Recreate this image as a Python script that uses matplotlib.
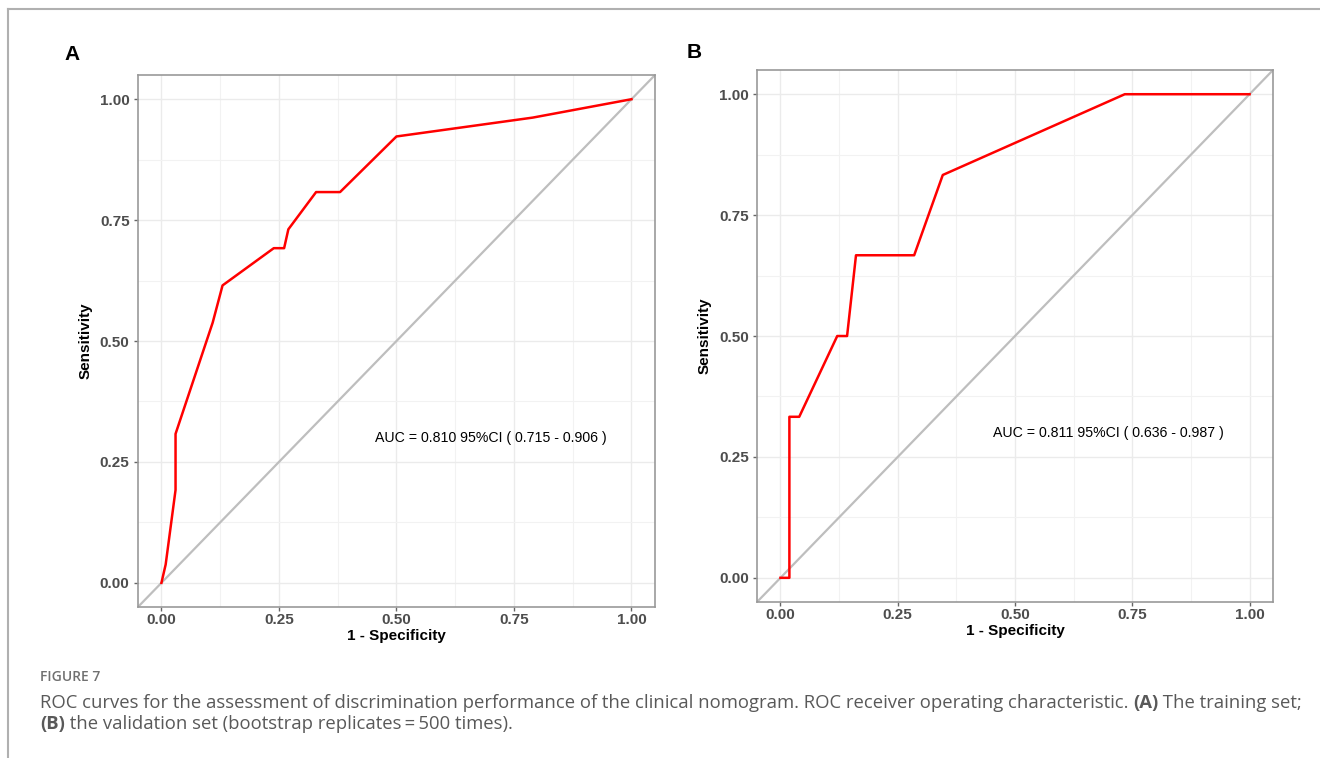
import matplotlib
matplotlib.use("Agg")
import matplotlib.pyplot as plt
from matplotlib.lines import Line2D

plt.rcParams['font.family'] = ['Liberation Sans', 'DejaVu Sans']

# ROC points
train_fpr = [0.0, 0.009, 0.030, 0.030, 0.109, 0.130, 0.239, 0.261, 0.270, 0.329, 0.380, 0.500, 0.790, 1.0]
train_tpr = [0.0, 0.038, 0.192, 0.308, 0.538, 0.615, 0.692, 0.692, 0.731, 0.808, 0.808, 0.923, 0.962, 1.0]
valid_fpr = [0.0, 0.019, 0.019, 0.040, 0.121, 0.142, 0.161, 0.285, 0.346, 0.734, 1.0]
valid_tpr = [0.0, 0.0, 0.333, 0.333, 0.500, 0.500, 0.667, 0.667, 0.833, 1.0, 1.0]

auc_labels = ["AUC = 0.810 95%CI ( 0.715 - 0.906 )",
              "AUC = 0.811 95%CI ( 0.636 - 0.987 )"]
panel_tags = ["A", "B"]
ticks = [0.0, 0.25, 0.5, 0.75, 1.0]
tick_labels = ["0.00", "0.25", "0.50", "0.75", "1.00"]

fig = plt.figure(figsize=(13.2, 7.58), dpi=100)

# outer frame of the figure box
fig.add_artist(Line2D([0.006, 1.0], [0.988, 0.988], color='#b0b0b0', lw=1.5))
fig.add_artist(Line2D([0.006, 0.006], [0.0, 0.988], color='#b0b0b0', lw=1.5))

ax_a = fig.add_axes([0.1045, 0.1992, 0.3917, 0.7018])
ax_b = fig.add_axes([0.5735, 0.2058, 0.3909, 0.7018])

curves = [(train_fpr, train_tpr), (valid_fpr, valid_tpr)]
for ax, (fpr, tpr), lab in zip([ax_a, ax_b], curves, auc_labels):
    ax.set_xlim(-0.05, 1.05)
    ax.set_ylim(-0.05, 1.05)
    ax.set_xticks(ticks)
    ax.set_xticklabels(tick_labels)
    ax.set_yticks(ticks)
    ax.set_yticklabels(tick_labels)
    ax.set_xticks([0.125, 0.375, 0.625, 0.875], minor=True)
    ax.set_yticks([0.125, 0.375, 0.625, 0.875], minor=True)
    ax.grid(which='major', color='#ebebeb', lw=1.0)
    ax.grid(which='minor', color='#f2f2f2', lw=0.8)
    ax.set_axisbelow(True)
    ax.tick_params(which='major', length=3, width=1, color='#666666', labelcolor='#4d4d4d', labelsize=11, pad=3)
    ax.tick_params(axis='x', which='major', pad=1.5)
    ax.tick_params(which='minor', length=0)
    for t in ax.get_xticklabels() + ax.get_yticklabels():
        t.set_fontweight('bold')
    for s in ax.spines.values():
        s.set_color('#999999')
        s.set_linewidth(1.2)
    ax.plot([-0.05, 1.05], [-0.05, 1.05], color='#bebebe', lw=1.6, zorder=2)
    ax.plot(fpr, tpr, color='#ff0000', lw=1.8, zorder=3)
    ax.text(0.70, 0.30, lab, ha='center', va='center', fontsize=10.2, color='black')
    ax.set_xlabel("1 - Specificity", fontsize=11, fontweight='bold', labelpad=1.5)
    ax.set_ylabel("Sensitivity", fontsize=11, fontweight='bold', labelpad=5)

fig.text(72 / 1320, 1 - 55 / 758, panel_tags[0], fontsize=15, fontweight='bold', ha='center', va='center')
fig.text(694 / 1320, 1 - 53 / 758, panel_tags[1], fontsize=15, fontweight='bold', ha='center', va='center')

cap = ['Open Sans', 'DejaVu Sans']
cap_col = '#595959'
fig.text(40 / 1320, 1 - 677 / 758, "FIGURE 7", fontsize=10, family=cap, fontweight='semibold', color='#707070', va='center')


def caption_line(y, parts):
    # parts: list of (text, bold) drawn one after another
    x = 40 / 1320
    fig.canvas.draw()
    r = fig.canvas.get_renderer()
    for s, bold in parts:
        t = fig.text(x, 1 - y / 758, s, fontsize=13.3, family=cap, color=cap_col, va='center',
                     fontweight='bold' if bold else 'normal')
        bb = t.get_window_extent(renderer=r)
        x = bb.x1 / fig.bbox.width


caption_line(703, [("ROC curves for the assessment of discrimination performance of the clinical nomogram. "
                    "ROC receiver operating characteristic. ", False), ("(A)", True), (" The training set;", False)])
caption_line(724, [("(B)", True), (" the validation set (bootstrap replicates\u2009=\u2009500 times).", False)])

fig.savefig("out.png", dpi=100)
